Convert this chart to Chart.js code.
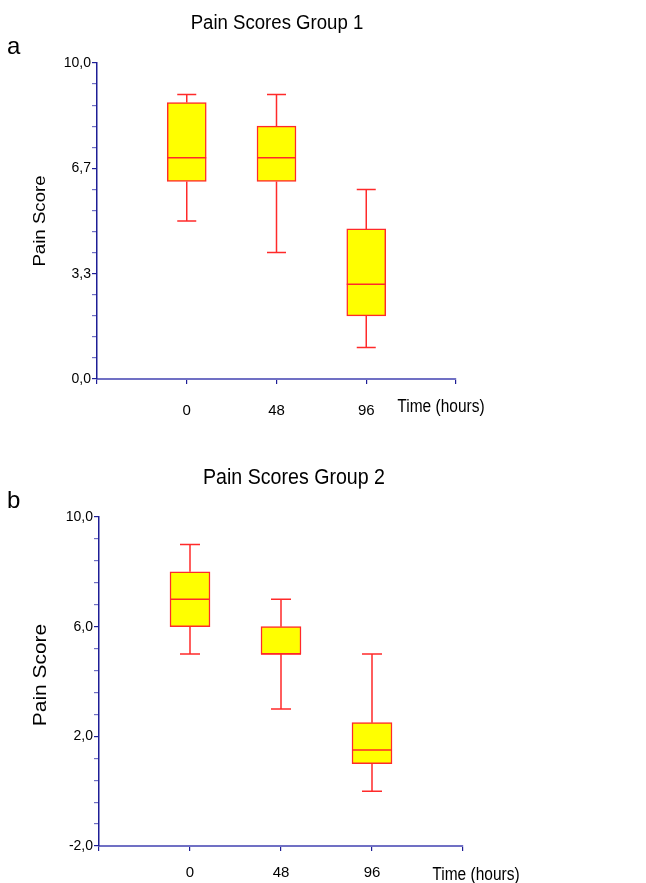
<!DOCTYPE html>
<html lang="en">
  <head>
    <meta charset="UTF-8" />
    <title>Pain Scores</title>
    <script src="https://cdn.jsdelivr.net/npm/chart.js"></script>
    <style>
      body {
        margin: 0;
        padding: 0;
        background-color: #fff;
        font-family: "Liberation Sans", Arial, sans-serif;
      }
      .page {
        position: relative;
        width: 646px;
        height: 883px;
        overflow: hidden;
      }
      canvas {
        position: absolute;
        left: 0;
      }
      .txt {
        position: absolute;
        white-space: nowrap;
        line-height: 1;
        color: #000;
      }
    </style>
  </head>

  <body>
    <div class="page">
      <canvas id="chartA" width="646" height="440" style="top: 0"></canvas>
      <canvas id="chartB" width="646" height="443" style="top: 440px"></canvas>

      <div class="txt" style="left: 7px; top: 34px; font-size: 24px">a</div>
      <div class="txt" style="left: 277px; top: 23px; font-size: 18.6px; transform: translate(-50%, -50%) scaleY(1.13)">Pain Scores Group 1</div>
      <div class="txt" style="left: 39px; top: 221px; font-size: 16.5px; transform: translate(-50%, -50%) scaleY(1.13) rotate(-90deg)">Pain Score</div>
      <div class="txt" style="left: 441px; top: 406px; font-size: 15.5px; transform: translate(-50%, -50%) scaleY(1.13)">Time (hours)</div>

      <div class="txt" style="left: 7px; top: 488px; font-size: 24px">b</div>
      <div class="txt" style="left: 294px; top: 477px; font-size: 19.6px; transform: translate(-50%, -50%) scaleY(1.13)">Pain Scores Group 2</div>
      <div class="txt" style="left: 40px; top: 675px; font-size: 18.5px; transform: translate(-50%, -50%) scaleY(1.13) rotate(-90deg)">Pain Score</div>
      <div class="txt" style="left: 476px; top: 874px; font-size: 15.5px; transform: translate(-50%, -50%) scaleY(1.13)">Time (hours)</div>
    </div>

    <script>
      // time points (hours)
      const times = [0, 48, 96];
      const timeLabels = ["0", "48", "96"];
      const xTicks = [-48, 0, 48, 96, 144];

      // group 1 box plot values
      const g1Min = [5.0, 4.0, 1.0];
      const g1Q1 = [6.25, 6.25, 2.0];
      const g1Median = [7.0, 7.0, 3.0];
      const g1Q3 = [8.75, 8.0, 4.75];
      const g1Max = [9.0, 9.0, 6.0];

      // group 2 box plot values
      const g2Min = [5.0, 3.0, 0.0];
      const g2Q1 = [6.0, 5.0, 1.0];
      const g2Median = [7.0, 5.0, 1.5];
      const g2Q3 = [8.0, 6.0, 2.5];
      const g2Max = [9.0, 7.0, 5.0];

      // y axis major ticks and their labels
      const yMajorA = [0, 10 / 3, 20 / 3, 10];
      const yLabelsA = ["0,0", "3,3", "6,7", "10,0"];
      const yMajorB = [-2, 2, 6, 10];
      const yLabelsB = ["-2,0", "2,0", "6,0", "10,0"];

      Chart.defaults.font.family = "'Liberation Sans', Arial, sans-serif";
      Chart.defaults.color = "#000";

      const RED = "#ff2a2a";
      const YELLOW = "#ffff00";
      const NAVY = "#1e1e96";
      const LIGHT_NAVY = "#7070c4";

      // whiskers, caps and median lines drawn through the chart's scales
      const whiskerPlugin = {
        id: "whiskers",
        afterDatasetsDraw(chart) {
          const o = chart.options.plugins.whiskers;
          const { ctx } = chart;
          const xs = chart.scales.x;
          const ys = chart.scales.y;
          const meta = chart.getDatasetMeta(0);
          ctx.save();
          ctx.strokeStyle = RED;
          ctx.lineWidth = 1.5;
          o.times.forEach((t, i) => {
            const px = xs.getPixelForValue(t);
            const yLo = ys.getPixelForValue(o.lo[i]);
            const yQ1 = ys.getPixelForValue(o.q1[i]);
            const yQ3 = ys.getPixelForValue(o.q3[i]);
            const yHi = ys.getPixelForValue(o.hi[i]);
            const yMed = ys.getPixelForValue(o.med[i]);
            const half = meta.data[i].width / 2;
            ctx.beginPath();
            ctx.moveTo(px, yHi);
            ctx.lineTo(px, yQ3);
            ctx.moveTo(px, yQ1);
            ctx.lineTo(px, yLo);
            ctx.moveTo(px - o.cap, yHi);
            ctx.lineTo(px + o.cap, yHi);
            ctx.moveTo(px - o.cap, yLo);
            ctx.lineTo(px + o.cap, yLo);
            ctx.moveTo(px - half, yMed);
            ctx.lineTo(px + half, yMed);
            ctx.stroke();
          });
          ctx.restore();
        },
      };

      function minorTicks(majors, n) {
        const out = [];
        for (let i = 0; i < majors.length - 1; i++) {
          const step = (majors[i + 1] - majors[i]) / n;
          for (let k = 0; k < n; k++) out.push(majors[i] + k * step);
        }
        out.push(majors[majors.length - 1]);
        return out;
      }

      function isMajor(v, majors) {
        return majors.some((m) => Math.abs(m - v) < 1e-6);
      }

      function makeBoxChart(id, cfg) {
        const ctx = document.getElementById(id).getContext("2d");
        const allY = minorTicks(cfg.yMajor, 5);
        return new Chart(ctx, {
          type: "bar",
          data: {
            datasets: [
              {
                data: times.map((t, i) => ({ x: t, y: [cfg.q1[i], cfg.q3[i]] })),
                backgroundColor: YELLOW,
                borderColor: RED,
                borderWidth: 1.5,
                borderSkipped: false,
                barThickness: cfg.boxWidth,
              },
            ],
          },
          options: {
            responsive: false,
            animation: false,
            layout: { padding: cfg.padding },
            plugins: {
              legend: { display: false },
              tooltip: { enabled: false },
              whiskers: {
                times: times,
                lo: cfg.lo,
                q1: cfg.q1,
                med: cfg.med,
                q3: cfg.q3,
                hi: cfg.hi,
                cap: cfg.cap,
              },
            },
            scales: {
              x: {
                type: "linear",
                min: -48,
                max: 144,
                offset: false,
                afterBuildTicks: (s) => {
                  s.ticks = xTicks.map((v) => ({ value: v }));
                },
                afterFit: (s) => {
                  s.height = cfg.xHeight;
                },
                ticks: {
                  autoSkip: false,
                  maxRotation: 0,
                  padding: cfg.xPad,
                  font: { size: 15 },
                  callback: (v) => {
                    const i = times.indexOf(v);
                    return i >= 0 ? timeLabels[i] : "";
                  },
                },
                grid: {
                  offset: false,
                  drawOnChartArea: false,
                  tickLength: 5,
                  color: NAVY,
                  lineWidth: 1.2,
                },
                border: { color: LIGHT_NAVY, width: 2 },
              },
              y: {
                type: "linear",
                min: cfg.yMajor[0],
                max: cfg.yMajor[cfg.yMajor.length - 1],
                afterBuildTicks: (s) => {
                  s.ticks = allY.map((v) => ({ value: v }));
                },
                afterFit: (s) => {
                  s.width = cfg.yWidth;
                },
                ticks: {
                  autoSkip: false,
                  padding: 1,
                  font: { size: 14 },
                  callback: (v) => {
                    const i = cfg.yMajor.findIndex((m) => Math.abs(m - v) < 1e-6);
                    return i >= 0 ? cfg.yLabels[i] : "";
                  },
                },
                grid: {
                  drawOnChartArea: false,
                  tickLength: 5,
                  lineWidth: 1.2,
                  color: (c) =>
                    c.tick && isMajor(c.tick.value, cfg.yMajor) ? NAVY : LIGHT_NAVY,
                },
                border: { color: NAVY, width: 1.5 },
              },
            },
          },
          plugins: [whiskerPlugin],
        });
      }

      makeBoxChart("chartA", {
        lo: g1Min, q1: g1Q1, med: g1Median, q3: g1Q3, hi: g1Max,
        yMajor: yMajorA, yLabels: yLabelsA,
        padding: { top: 63, left: 0, right: 190, bottom: 0 },
        yWidth: 97, xHeight: 61, xPad: 18, boxWidth: 39, cap: 9.5,
      });

      makeBoxChart("chartB", {
        lo: g2Min, q1: g2Q1, med: g2Median, q3: g2Q3, hi: g2Max,
        yMajor: yMajorB, yLabels: yLabelsB,
        padding: { top: 77, left: 0, right: 183, bottom: 0 },
        yWidth: 99, xHeight: 37, xPad: 13, boxWidth: 40, cap: 10,
      });
    </script>
  </body>
</html>
